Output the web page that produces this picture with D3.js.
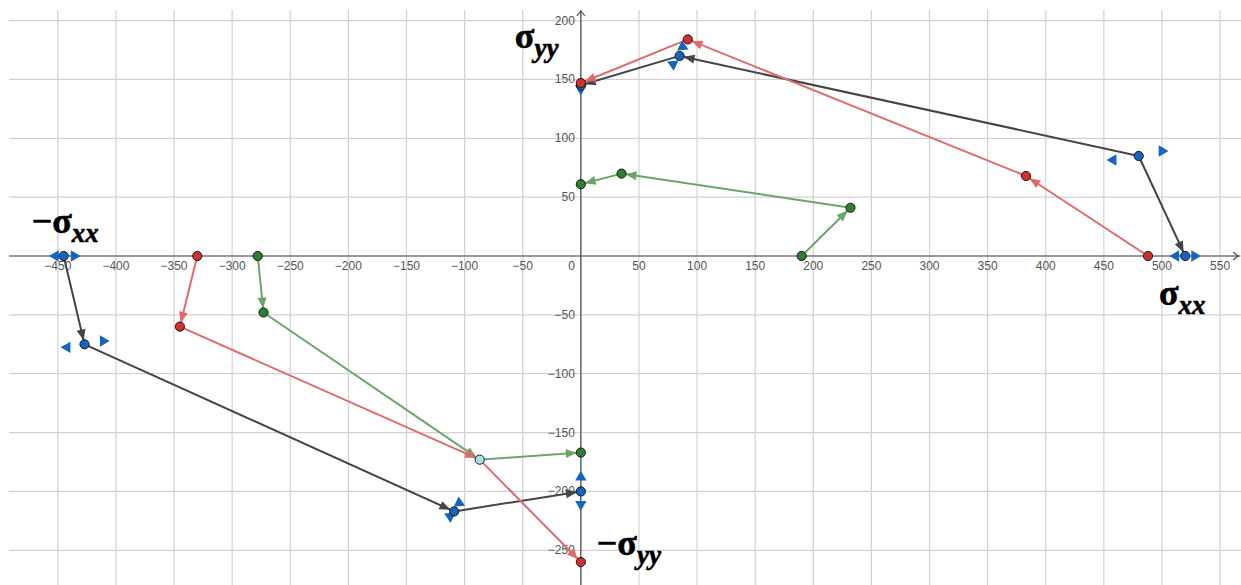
<!DOCTYPE html>
<html>
<head>
<meta charset="utf-8">
<script src="https://cdn.jsdelivr.net/npm/d3@7"></script>
<style>
  html, body { margin: 0; padding: 0; background: #fff; }
  svg { display: block; }
</style>
</head>
<body>
<svg id="chart" width="1241" height="585"></svg>
<script>
// Stress paths in the (σxx, σyy) plane
const xTicks = [-450, -400, -350, -300, -250, -200, -150, -100, -50, 50, 100, 150, 200, 250, 300, 350, 400, 450, 500, 550];
const yTicks = [-250, -200, -150, -100, -50, 50, 100, 150, 200];

// Each path is a list of segments [from, to]; the arrow sits at "to"
const darkSegments = [
  [[-445, 0], [-427, -75]],
  [[-427, -75], [-109, -217]],
  [[-109, -217], [0, -200]],
  [[480, 85], [520, 0]],
  [[480, 85], [85, 170]],
  [[85, 170], [0, 145]]
];
const redSegments = [
  [[-330, 0], [-345, -60]],
  [[-345, -60], [-87, -173]],
  [[-87, -173], [0, -260]],
  [[488, 0], [383, 68]],
  [[383, 68], [92, 184]],
  [[92, 184], [0, 147]]
];
const greenSegments = [
  [[-278, 0], [-273, -48]],
  [[-273, -48], [-87, -173]],
  [[-87, -173], [0, -167]],
  [[190, 0], [232, 41]],
  [[232, 41], [35, 70]],
  [[35, 70], [0, 61]]
];

const bluePoints = [[-445, 0], [-427, -75], [-109, -217], [0, -200], [480, 85], [520, 0], [85, 170], [0, 145]];
const redPoints = [[-330, 0], [-345, -60], [0, -260], [488, 0], [383, 68], [92, 184], [0, 147]];
const greenPoints = [[-278, 0], [-273, -48], [0, -167], [190, 0], [232, 41], [35, 70], [0, 61]];
const sharedPoints = [[-87, -173]];

// Drag handles: [x, y, pointing angle in degrees]
const handles = [
  [-452, 0, 180], [-436, 0, 0],
  [-442, -77.6, 180], [-411, -72.2, 0],
  [458, 81.6, 180], [500, 89.2, 0],
  [512, 0, 180], [528, 0, 0],
  [0, -188, 270], [0, -211, 90],
  [-104.7, -209.8, 25], [-112.5, -221.2, 205],
  [87.5, 177.8, 25], [79.4, 162.9, 205],
  [0, 142, 90]
];

const W = 1241, H = 585;
const x = d3.scaleLinear().domain([-492, 568]).range([9, 1241]);
const y = d3.scaleLinear().domain([-279.5, 209]).range([585, 10]);

const svg = d3.select("#chart");

// grid
const grid = svg.append("g").attr("stroke", "#d2d2d2").attr("stroke-width", 1.2);
grid.selectAll("line.v").data(xTicks.concat([0])).join("line")
  .attr("x1", d => x(d)).attr("x2", d => x(d))
  .attr("y1", 10).attr("y2", H);
grid.selectAll("line.h").data(yTicks.concat([0])).join("line")
  .attr("y1", d => y(d)).attr("y2", d => y(d))
  .attr("x1", 9).attr("x2", W);

// axes
const axisColor = "#4a4a4a";
svg.append("line").attr("x1", 9).attr("x2", W - 1).attr("y1", y(0)).attr("y2", y(0))
  .attr("stroke", axisColor).attr("stroke-width", 1.2);
svg.append("line").attr("x1", x(0)).attr("x2", x(0)).attr("y1", 11).attr("y2", H)
  .attr("stroke", axisColor).attr("stroke-width", 1.2);
svg.append("path")
  .attr("d", `M${W - 8},${y(0) - 4}L${W - 3},${y(0)}L${W - 8},${y(0) + 4}`)
  .attr("fill", "none").attr("stroke", axisColor).attr("stroke-width", 1.1);
svg.append("path")
  .attr("d", `M${x(0) - 4},${16}L${x(0)},${11}L${x(0) + 4},${16}`)
  .attr("fill", "none").attr("stroke", axisColor).attr("stroke-width", 1.1);

// tick labels
const fmt = v => (v < 0 ? "\u2212" + Math.abs(v) : String(v));
const labels = svg.append("g").attr("font-family", "Arial, 'Liberation Sans', sans-serif")
  .attr("font-size", 12).attr("fill", "#555");
labels.selectAll("text.xl").data(xTicks).join("text")
  .attr("x", d => x(d)).attr("y", y(0) + 14)
  .attr("text-anchor", "middle").text(fmt);
labels.selectAll("text.yl").data(yTicks).join("text")
  .attr("x", x(0) - 6).attr("y", d => y(d) + 4)
  .attr("text-anchor", "end").text(fmt);
labels.append("text").attr("x", x(0) - 6).attr("y", y(0) + 14)
  .attr("text-anchor", "end").text("0");

// segments with arrowheads
function drawPath(segs, color) {
  const g = svg.append("g");
  g.selectAll("line").data(segs).join("line")
    .attr("x1", d => x(d[0][0])).attr("y1", d => y(d[0][1]))
    .attr("x2", d => x(d[1][0])).attr("y2", d => y(d[1][1]))
    .attr("stroke", color).attr("stroke-width", 2).attr("stroke-linecap", "round");
  g.selectAll("path").data(segs).join("path")
    .attr("fill", color)
    .attr("d", d => {
      const x1 = x(d[0][0]), y1 = y(d[0][1]), x2 = x(d[1][0]), y2 = y(d[1][1]);
      const len = Math.hypot(x2 - x1, y2 - y1);
      const ux = (x2 - x1) / len, uy = (y2 - y1) / len;
      const tipX = x2 - ux * 4, tipY = y2 - uy * 4;
      const bx = tipX - ux * 11, by = tipY - uy * 11;
      const hw = 4.5;
      return `M${tipX},${tipY}L${bx - uy * hw},${by + ux * hw}L${bx + uy * hw},${by - ux * hw}Z`;
    });
}
drawPath(darkSegments, "#454545");
drawPath(greenSegments, "#6aa66c");
drawPath(redSegments, "#e06a6a");

// handles
const tri = d3.symbol().type(d3.symbolTriangle).size(56);
svg.append("g").selectAll("path").data(handles).join("path")
  .attr("d", tri)
  .attr("fill", "#1565c0")
  .attr("transform", d => `translate(${x(d[0])},${y(d[1])}) rotate(${d[2] + 90})`);

// points
function drawPoints(pts, fill) {
  svg.append("g").selectAll("circle").data(pts).join("circle")
    .attr("cx", d => x(d[0])).attr("cy", d => y(d[1])).attr("r", 4.6)
    .attr("fill", fill).attr("stroke", "#1a1a1a").attr("stroke-width", 1);
}
drawPoints(bluePoints, "#1565c0");
drawPoints(greenPoints, "#2e7d32");
drawPoints(redPoints, "#d32f2f");
drawPoints(sharedPoints, "#a8e4e4");

// axis names
function axisName(vx, vy, prefix, sub) {
  const t = svg.append("text")
    .attr("x", x(vx)).attr("y", y(vy))
    .attr("font-family", "'Liberation Serif', 'DejaVu Serif', serif")
    .attr("font-weight", "bold").attr("fill", "#000")
    .attr("stroke", "#000").attr("stroke-width", 0.6);
  t.append("tspan").attr("font-size", 36).text(prefix + "\u03c3");
  t.append("tspan").attr("font-size", 27).attr("font-style", "italic").attr("dy", 9).text(sub);
}
axisName(-56.8, 176.7, "", "yy");
axisName(-472.5, 19.5, "\u2212", "xx");
axisName(497.4, -41.6, "", "xx");
axisName(13.8, -254, "\u2212", "yy");
</script>
</body>
</html>
